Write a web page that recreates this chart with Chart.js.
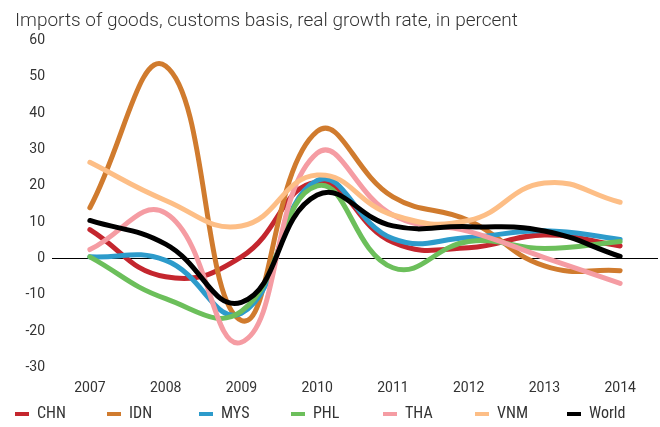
<!DOCTYPE html>
<html>
<head>
<meta charset="utf-8">
<script src="https://cdn.jsdelivr.net/npm/chart.js@4"></script>
<style>
  html, body { margin: 0; padding: 0; background: #fff; }
  #wrap { position: relative; width: 660px; height: 427px; }
  #title { position: absolute; left: 15px; top: 8px; font: 300 19px Roboto, sans-serif; color: #333; white-space: nowrap; }
  #legend { position: absolute; left: 0; top: 403px; width: 660px; height: 20px; }
  .item { position: absolute; top: 0; height: 20px; font: 16px "Liberation Sans Narrow", Roboto, sans-serif; font-stretch: condensed; color: #333; line-height: 20px; }
  .item span.mk { position: absolute; left: 0; top: 9px; width: 14px; height: 4px; }
  .item span.tx { position: absolute; left: 22px; top: 0; }
</style>
</head>
<body>
<div id="wrap">
  <canvas id="graph" width="660" height="427"></canvas>
  <div id="title">Imports of goods, customs basis, real growth rate, in percent</div>
  <div id="legend"></div>
</div>
<script>
// Years on the x axis
const years = ['2007', '2008', '2009', '2010', '2011', '2012', '2013', '2014'];

// Series values
const chn = [8, -5, 0.5, 21, 4.5, 3, 6.5, 3.5];
const idn = [14, 53, -17, 35, 17, 10.5, -2, -3.3];
const mys = [0.5, -0.5, -15, 21.5, 5.5, 5.8, 7.7, 5.3];
const phl = [0.5, -11, -14.5, 20, -2.5, 4.7, 2.8, 4.7];
const tha = [2.5, 12.5, -23, 29, 12, 7.5, 0.3, -6.8];
const vnm = [26.5, 16, 9, 23, 12, 10.5, 20.8, 15.5];
const world = [10.5, 4, -12, 17.5, 9, 8.8, 7.6, 0.6];

const names = ['CHN', 'IDN', 'MYS', 'PHL', 'THA', 'VNM', 'World'];
const series = [chn, idn, mys, phl, tha, vnm, world];
const colors = ['#c4262e', '#d07b2e', '#2d9bcb', '#6cbf5b', '#f59ca3', '#fdbe86', '#000000'];

// Build datasets, later series drawn on top
const datasets = names.map((name, i) => ({
  label: name,
  data: series[i],
  borderColor: colors[i],
  backgroundColor: colors[i],
  borderWidth: 5,
  borderCapStyle: 'round',
  borderJoinStyle: 'round',
  pointRadius: 0,
  tension: 0.45,
  fill: false,
  order: names.length - i
}));

const tickFont = { family: "'Liberation Sans Narrow', Roboto, sans-serif", size: 14 };

const ctx = document.getElementById('graph').getContext('2d');
new Chart(ctx, {
  type: 'line',
  data: { labels: years, datasets: datasets },
  options: {
    responsive: false,
    animation: false,
    layout: { padding: { top: 40.5, right: 2, bottom: 18.5, left: 0 } },
    scales: {
      x: {
        offset: true,
        grid: { display: false, drawTicks: false },
        border: { display: false },
        ticks: { font: tickFont, color: '#333', padding: 12, maxRotation: 0 }
      },
      y: {
        min: -30,
        max: 60,
        afterFit: (scale) => { scale.width = 52; },
        grid: {
          drawTicks: false,
          color: (c) => c.tick && c.tick.value === 0 ? '#000' : 'rgba(0,0,0,0)',
          lineWidth: 1
        },
        border: { display: false },
        ticks: { stepSize: 10, font: tickFont, color: '#333', padding: 7 }
      }
    },
    plugins: {
      legend: { display: false },
      tooltip: { enabled: false }
    }
  }
});

// Legend below the chart
const legend = document.getElementById('legend');
names.forEach((name, i) => {
  const item = document.createElement('div');
  item.className = 'item';
  item.style.left = (15 + 92 * i) + 'px';
  item.innerHTML = '<span class="mk" style="background:' + colors[i] + '"></span><span class="tx">' + name + '</span>';
  legend.appendChild(item);
});
</script>
</body>
</html>
